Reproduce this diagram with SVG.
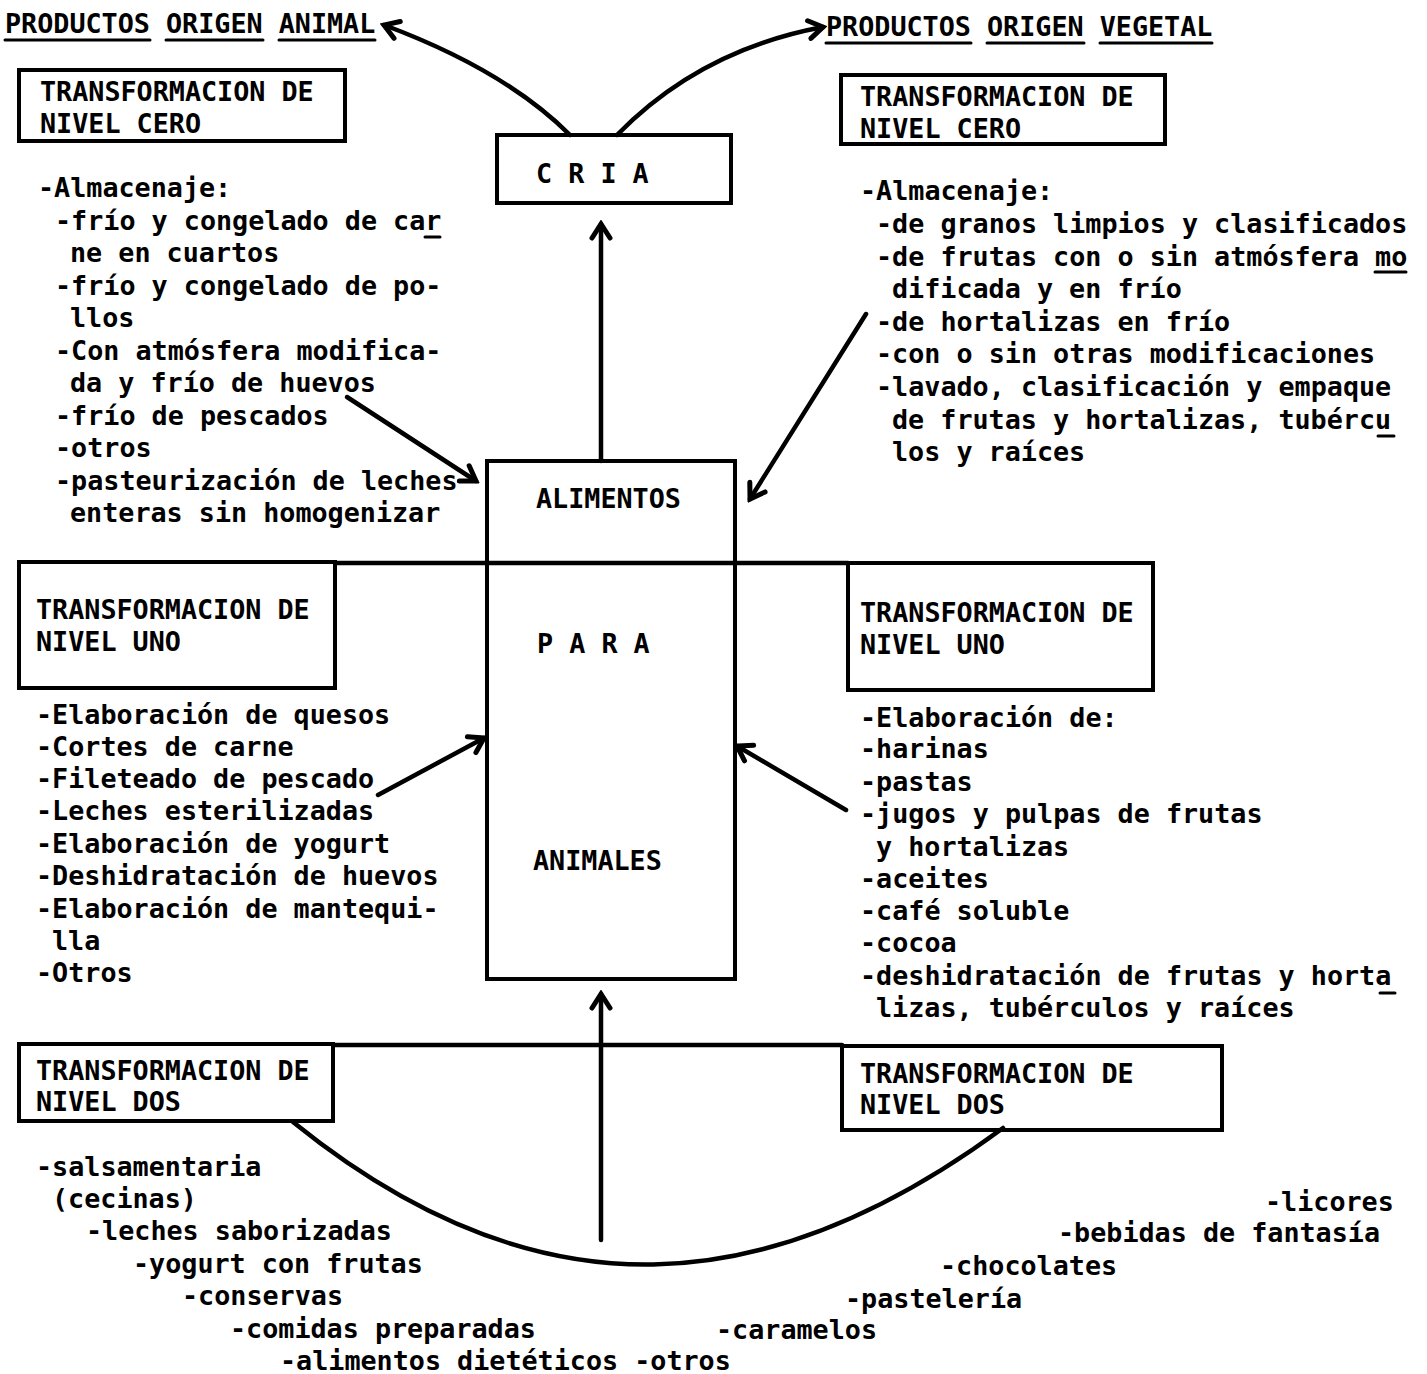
<svg xmlns="http://www.w3.org/2000/svg" width="1427" height="1374" viewBox="0 0 1427 1374">
<style>
  text { font-family: "DejaVu Sans Mono", "Liberation Mono", monospace; font-weight: bold; font-size: 27px; fill: #000; }
  .box { fill: none; stroke: #000; stroke-width: 4; }
  .ln { fill: none; stroke: #000; stroke-width: 4.5; stroke-linecap: round; }
  .ul { stroke: #000; stroke-width: 3; stroke-linecap: round; }
</style>
<defs>
  <marker id="ah" markerUnits="userSpaceOnUse" viewBox="-18 -12 22 24" markerWidth="22" markerHeight="24" refX="0" refY="0" orient="auto">
    <path d="M-14,-9 L0,0 L-14,9" fill="none" stroke="#000" stroke-width="5" stroke-linejoin="miter" stroke-linecap="round"/>
  </marker>
</defs>
<rect width="1427" height="1374" fill="#fff"/>

<g id="connectors">
  <line class="ln" x1="335" y1="563" x2="848" y2="563"/>
  <line class="ln" x1="333" y1="1045" x2="842" y2="1045"/>
  <path class="ln" d="M570,135 Q505,70 384,25" marker-end="url(#ah)"/>
  <path class="ln" d="M617,135 Q700,50 823,27" marker-end="url(#ah)"/>
  <path class="ln" d="M601,461 L601,224" marker-end="url(#ah)"/>
  <path class="ln" d="M347,397 L476,481" marker-end="url(#ah)"/>
  <path class="ln" d="M866,314 L750,499" marker-end="url(#ah)"/>
  <path class="ln" d="M378,795 L484,738" marker-end="url(#ah)"/>
  <path class="ln" d="M846,810 L737,746" marker-end="url(#ah)"/>
  <path class="ln" d="M601,1240 L601,994" marker-end="url(#ah)"/>
  <path class="ln" d="M293,1122 C540,1322 770,1300 1003,1128"/>
</g>

<g id="header-animal">
  <text x="5" y="33" textLength="370.3" lengthAdjust="spacingAndGlyphs">PRODUCTOS ORIGEN ANIMAL</text>
  <line class="ul" x1="5" y1="40" x2="150" y2="40"/>
  <line class="ul" x1="166" y1="40" x2="263" y2="40"/>
  <line class="ul" x1="279" y1="40" x2="375" y2="40"/>
</g>

<g id="header-vegetal">
  <text x="826" y="36" textLength="386.4" lengthAdjust="spacingAndGlyphs">PRODUCTOS ORIGEN VEGETAL</text>
  <line class="ul" x1="826" y1="43" x2="971" y2="43"/>
  <line class="ul" x1="987" y1="43" x2="1084" y2="43"/>
  <line class="ul" x1="1100" y1="43" x2="1212" y2="43"/>
</g>

<g id="cria">
  <rect class="box" x="497" y="135" width="234" height="68"/>
  <text x="536" y="183" textLength="112.7" lengthAdjust="spacingAndGlyphs">C R I A</text>
</g>

<g id="alimentos">
  <rect class="box" x="487" y="461" width="248" height="518"/>
  <text x="536" y="508" textLength="144.9" lengthAdjust="spacingAndGlyphs">ALIMENTOS</text>
  <text x="537" y="653" textLength="112.7" lengthAdjust="spacingAndGlyphs">P A R A</text>
  <text x="533" y="870" textLength="128.8" lengthAdjust="spacingAndGlyphs">ANIMALES</text>
</g>

<g id="animal-cero">
  <rect class="box" x="19" y="70" width="326" height="71"/>
  <text x="40" y="101" textLength="273.7" lengthAdjust="spacingAndGlyphs">TRANSFORMACION DE</text>
  <text x="40" y="133" textLength="161" lengthAdjust="spacingAndGlyphs">NIVEL CERO</text>
</g>

<g id="animal-cero-list">
  <text x="38" y="197" textLength="193.2" lengthAdjust="spacingAndGlyphs">-Almacenaje:</text>
  <text x="55" y="230" textLength="386.4" lengthAdjust="spacingAndGlyphs">-frío y congelado de car</text>
  <line class="ul" x1="425" y1="237" x2="440" y2="237"/>
  <text x="70" y="262" textLength="209.3" lengthAdjust="spacingAndGlyphs">ne en cuartos</text>
  <text x="55" y="295" textLength="386.4" lengthAdjust="spacingAndGlyphs">-frío y congelado de po-</text>
  <text x="70" y="327" textLength="64.4" lengthAdjust="spacingAndGlyphs">llos</text>
  <text x="55" y="360" textLength="386.4" lengthAdjust="spacingAndGlyphs">-Con atmósfera modifica-</text>
  <text x="70" y="392" textLength="305.9" lengthAdjust="spacingAndGlyphs">da y frío de huevos</text>
  <text x="55" y="425" textLength="273.7" lengthAdjust="spacingAndGlyphs">-frío de pescados</text>
  <text x="55" y="457" textLength="96.6" lengthAdjust="spacingAndGlyphs">-otros</text>
  <text x="55" y="490" textLength="402.5" lengthAdjust="spacingAndGlyphs">-pasteurización de leches</text>
  <text x="70" y="522" textLength="370.3" lengthAdjust="spacingAndGlyphs">enteras sin homogenizar</text>
</g>

<g id="vegetal-cero">
  <rect class="box" x="841" y="75" width="324" height="69"/>
  <text x="860" y="106" textLength="273.7" lengthAdjust="spacingAndGlyphs">TRANSFORMACION DE</text>
  <text x="860" y="138" textLength="161" lengthAdjust="spacingAndGlyphs">NIVEL CERO</text>
</g>

<g id="vegetal-cero-list">
  <text x="860" y="200" textLength="193.2" lengthAdjust="spacingAndGlyphs">-Almacenaje:</text>
  <text x="876" y="233" textLength="531.3" lengthAdjust="spacingAndGlyphs">-de granos limpios y clasificados</text>
  <text x="876" y="266" textLength="531.3" lengthAdjust="spacingAndGlyphs">-de frutas con o sin atmósfera mo</text>
  <line class="ul" x1="1375" y1="272" x2="1406" y2="272"/>
  <text x="892" y="298" textLength="289.8" lengthAdjust="spacingAndGlyphs">dificada y en frío</text>
  <text x="876" y="331" textLength="354.2" lengthAdjust="spacingAndGlyphs">-de hortalizas en frío</text>
  <text x="876" y="363" textLength="499.1" lengthAdjust="spacingAndGlyphs">-con o sin otras modificaciones</text>
  <text x="876" y="396" textLength="515.2" lengthAdjust="spacingAndGlyphs">-lavado, clasificación y empaque</text>
  <text x="892" y="429" textLength="499.1" lengthAdjust="spacingAndGlyphs">de frutas y hortalizas, tubércu</text>
  <line class="ul" x1="1378" y1="436" x2="1394" y2="436"/>
  <text x="892" y="461" textLength="193.2" lengthAdjust="spacingAndGlyphs">los y raíces</text>
</g>

<g id="animal-uno">
  <rect class="box" x="19" y="562" width="316" height="126"/>
  <text x="36" y="619" textLength="273.7" lengthAdjust="spacingAndGlyphs">TRANSFORMACION DE</text>
  <text x="36" y="651" textLength="144.9" lengthAdjust="spacingAndGlyphs">NIVEL UNO</text>
</g>

<g id="animal-uno-list">
  <text x="36" y="724" textLength="354.2" lengthAdjust="spacingAndGlyphs">-Elaboración de quesos</text>
  <text x="36" y="756" textLength="257.6" lengthAdjust="spacingAndGlyphs">-Cortes de carne</text>
  <text x="36" y="788" textLength="338.1" lengthAdjust="spacingAndGlyphs">-Fileteado de pescado</text>
  <text x="36" y="820" textLength="338.1" lengthAdjust="spacingAndGlyphs">-Leches esterilizadas</text>
  <text x="36" y="853" textLength="354.2" lengthAdjust="spacingAndGlyphs">-Elaboración de yogurt</text>
  <text x="36" y="885" textLength="402.5" lengthAdjust="spacingAndGlyphs">-Deshidratación de huevos</text>
  <text x="36" y="918" textLength="402.5" lengthAdjust="spacingAndGlyphs">-Elaboración de mantequi-</text>
  <text x="52" y="950" textLength="48.3" lengthAdjust="spacingAndGlyphs">lla</text>
  <text x="36" y="982" textLength="96.6" lengthAdjust="spacingAndGlyphs">-Otros</text>
</g>

<g id="vegetal-uno">
  <rect class="box" x="848" y="563" width="305" height="127"/>
  <text x="860" y="622" textLength="273.7" lengthAdjust="spacingAndGlyphs">TRANSFORMACION DE</text>
  <text x="860" y="654" textLength="144.9" lengthAdjust="spacingAndGlyphs">NIVEL UNO</text>
</g>

<g id="vegetal-uno-list">
  <text x="860" y="727" textLength="257.6" lengthAdjust="spacingAndGlyphs">-Elaboración de:</text>
  <text x="860" y="758" textLength="128.8" lengthAdjust="spacingAndGlyphs">-harinas</text>
  <text x="860" y="791" textLength="112.7" lengthAdjust="spacingAndGlyphs">-pastas</text>
  <text x="860" y="823" textLength="402.5" lengthAdjust="spacingAndGlyphs">-jugos y pulpas de frutas</text>
  <text x="876" y="856" textLength="193.2" lengthAdjust="spacingAndGlyphs">y hortalizas</text>
  <text x="860" y="888" textLength="128.8" lengthAdjust="spacingAndGlyphs">-aceites</text>
  <text x="860" y="920" textLength="209.3" lengthAdjust="spacingAndGlyphs">-café soluble</text>
  <text x="860" y="952" textLength="96.6" lengthAdjust="spacingAndGlyphs">-cocoa</text>
  <text x="860" y="985" textLength="531.3" lengthAdjust="spacingAndGlyphs">-deshidratación de frutas y horta</text>
  <line class="ul" x1="1380" y1="993" x2="1395" y2="993"/>
  <text x="876" y="1017" textLength="418.6" lengthAdjust="spacingAndGlyphs">lizas, tubérculos y raíces</text>
</g>

<g id="animal-dos">
  <rect class="box" x="19" y="1044" width="314" height="77"/>
  <text x="36" y="1080" textLength="273.7" lengthAdjust="spacingAndGlyphs">TRANSFORMACION DE</text>
  <text x="36" y="1111" textLength="144.9" lengthAdjust="spacingAndGlyphs">NIVEL DOS</text>
</g>

<g id="animal-dos-list">
  <text x="36" y="1176" textLength="225.4" lengthAdjust="spacingAndGlyphs">-salsamentaria</text>
  <text x="52" y="1208" textLength="144.9" lengthAdjust="spacingAndGlyphs">(cecinas)</text>
  <text x="86" y="1240" textLength="305.9" lengthAdjust="spacingAndGlyphs">-leches saborizadas</text>
  <text x="133" y="1273" textLength="289.8" lengthAdjust="spacingAndGlyphs">-yogurt con frutas</text>
  <text x="182" y="1305" textLength="161" lengthAdjust="spacingAndGlyphs">-conservas</text>
  <text x="230" y="1338" textLength="305.9" lengthAdjust="spacingAndGlyphs">-comidas preparadas</text>
  <text x="280" y="1370" textLength="450.8" lengthAdjust="spacingAndGlyphs">-alimentos dietéticos -otros</text>
</g>

<g id="vegetal-dos">
  <rect class="box" x="842" y="1046" width="380" height="84"/>
  <text x="860" y="1083" textLength="273.7" lengthAdjust="spacingAndGlyphs">TRANSFORMACION DE</text>
  <text x="860" y="1114" textLength="144.9" lengthAdjust="spacingAndGlyphs">NIVEL DOS</text>
</g>

<g id="vegetal-dos-list">
  <text x="1265" y="1211" textLength="128.8" lengthAdjust="spacingAndGlyphs">-licores</text>
  <text x="1058" y="1242" textLength="322" lengthAdjust="spacingAndGlyphs">-bebidas de fantasía</text>
  <text x="940" y="1275" textLength="177.1" lengthAdjust="spacingAndGlyphs">-chocolates</text>
  <text x="845" y="1308" textLength="177.1" lengthAdjust="spacingAndGlyphs">-pastelería</text>
  <text x="716" y="1339" textLength="161" lengthAdjust="spacingAndGlyphs">-caramelos</text>
</g>
</svg>
